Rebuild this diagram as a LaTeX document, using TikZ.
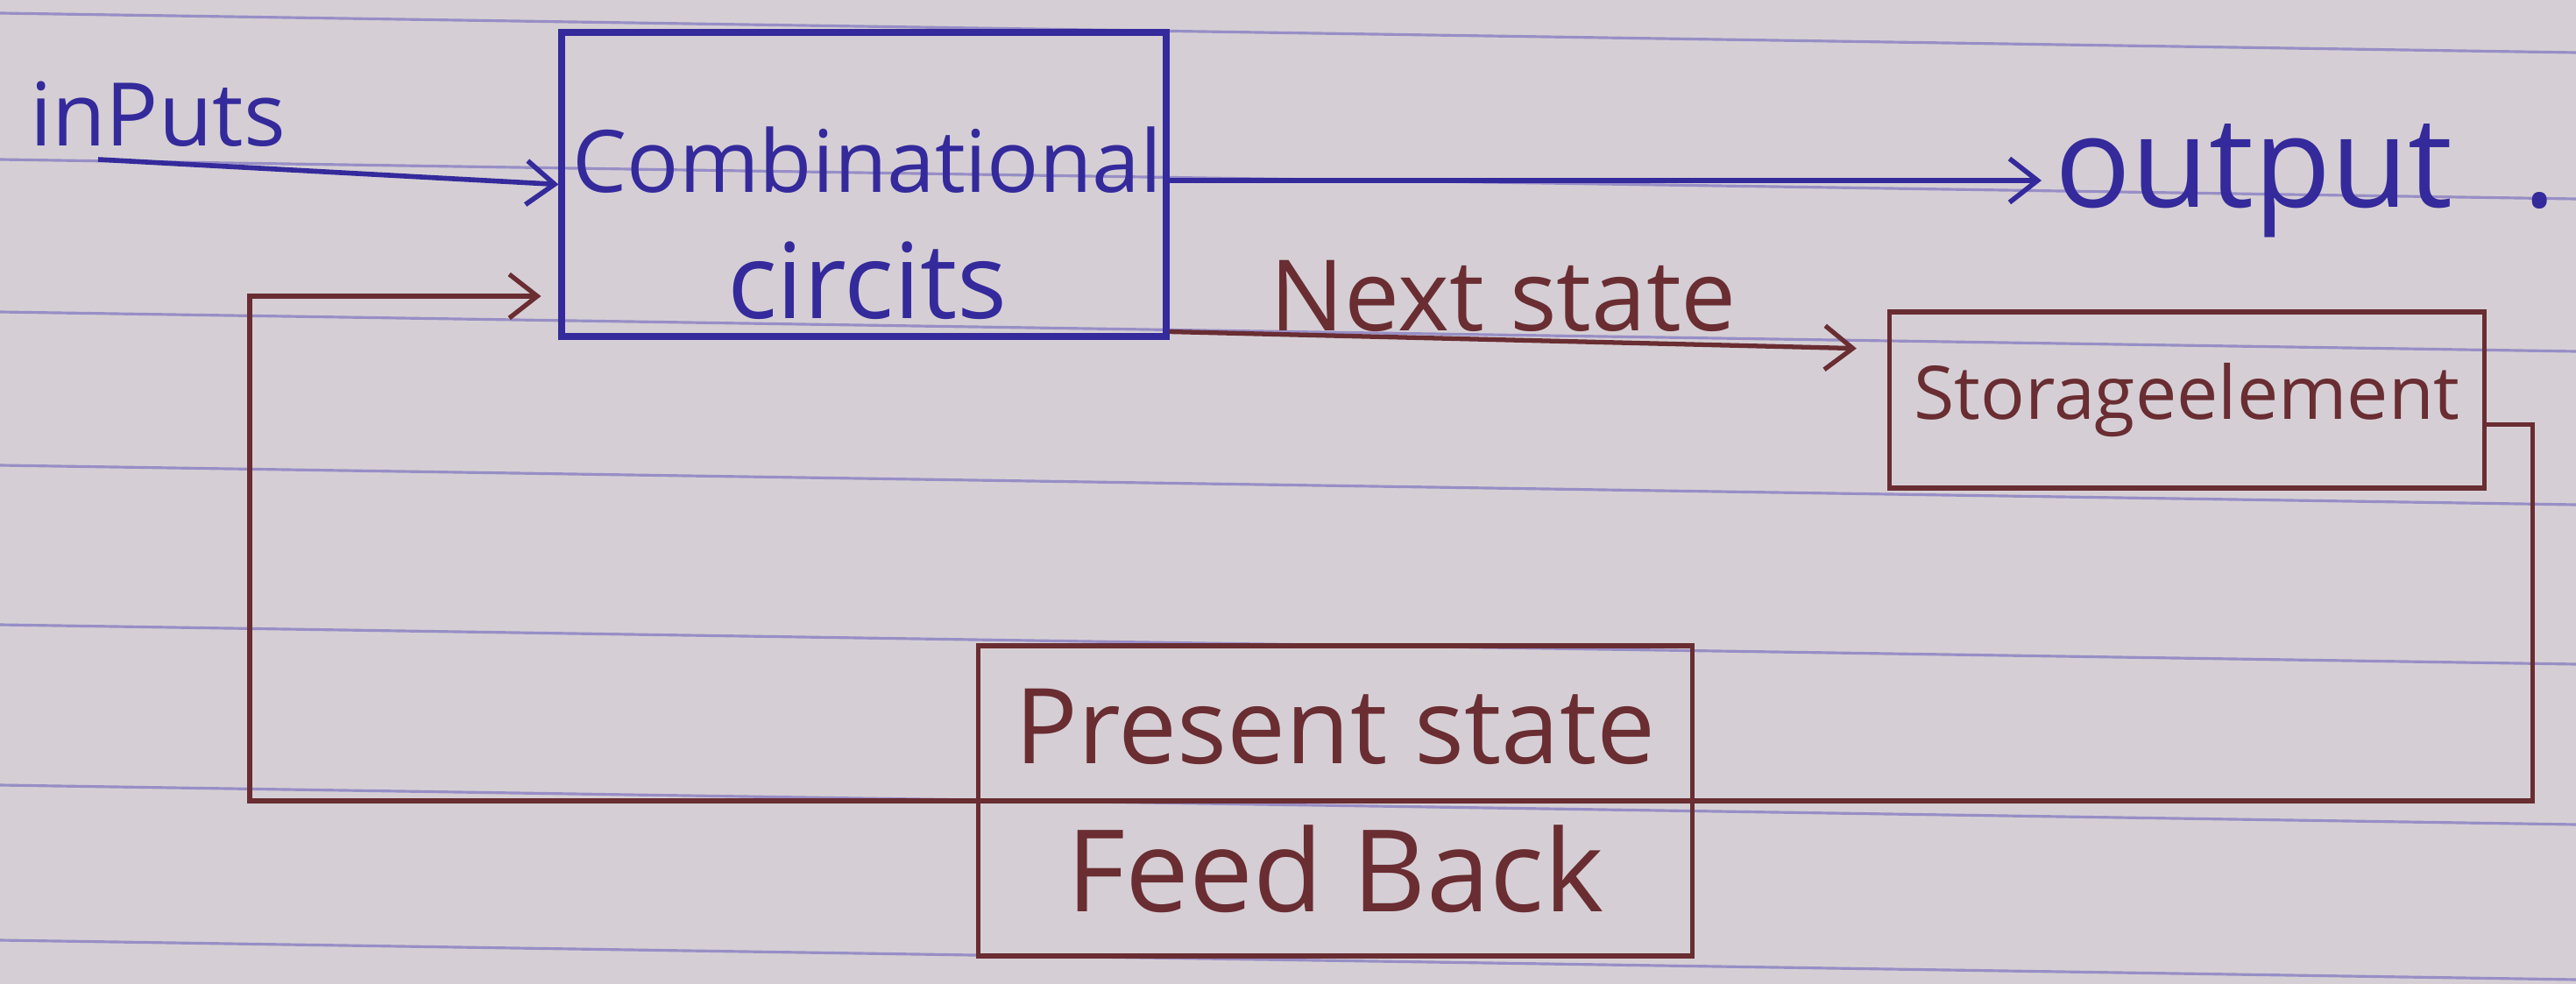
\documentclass[tikz,border=0pt]{standalone}
\usepackage{fontspec}
\setmainfont{Open Sans}
\usetikzlibrary{arrows.meta}
\definecolor{paper}{RGB}{213,207,213}
\definecolor{ruling}{RGB}{152,142,198}
\definecolor{inkblue}{RGB}{52,42,155}
\definecolor{inkbrown}{RGB}{105,45,50}

\begin{document}
\begin{tikzpicture}[>={Straight Barb[length=3.2mm,width=5mm]},
    blueink/.style={draw=inkblue,line width=2pt},
    brownink/.style={draw=inkbrown,line width=1.5pt},
    handtext/.style={inner sep=0pt}]
    \useasboundingbox (0,0) rectangle (29.4,-11.23);
    \fill[paper] (0,0) rectangle (29.4,-11.23);
    % ruled paper
    \foreach \y in {0.15,1.82,3.56,5.31,7.13,8.96,10.73}
      \draw[ruling,line width=0.9pt] (0,-\y) -- (29.4,{-\y-0.45});
    % blocks
    \node[handtext,text=inkblue,font=\fontsize{28.5}{34}\selectfont] (inlbl) at (1.8,-1.3) {inPuts};
    \node[blueink,minimum width=6.9cm,minimum height=3.47cm] (comb) at (9.86,-2.105) {};
    \node[handtext,text=inkblue,align=center,font=\fontsize{28}{41}\selectfont] (combtxt) at (9.9,-2.55) {Combinational\\{\fontsize{34}{41}\selectfont circits}};
    \node[handtext,text=inkblue,font=\fontsize{41}{48}\selectfont,anchor=west] (outlbl) at (23.45,-2.06) {output\hspace{0.8cm}.};
    \node[handtext,text=inkbrown,font=\fontsize{32}{38}\selectfont] (nslbl) at (17.16,-3.38) {Next state};
    \node[brownink,minimum width=6.79cm,minimum height=2.01cm,text=inkbrown,font=\fontsize{24}{30}\selectfont] (store) at (24.96,-4.565) {Storageelement};
    \node[brownink,minimum width=8.15cm,minimum height=3.54cm,text=inkbrown,align=center,font=\fontsize{34}{48}\selectfont] (fb) at (15.24,-9.14) {Present state\\{\fontsize{37}{48}\selectfont Feed Back}};
    \coordinate (instart) at (1.12,-1.82);
    \coordinate (fbcorner) at (2.85,-3.38);
    % connections
    \draw[blueink,->,line width=1.6pt] (instart) -- (comb.west);
    \draw[blueink,->,line width=1.6pt,shorten >=1.5mm] (comb.east |- outlbl.west) -- (outlbl.west);
    \draw[brownink,->,shorten >=3.5mm] ([yshift=0.9mm]comb.south east) -- ([yshift=5.8mm]store.west);
    \draw[brownink,->,shorten >=2mm] ([yshift=-2.8mm]store.east) -- ++(0.52,0) |- (fb.east) -- (fb.west) -| (fbcorner) -- (comb.west |- fbcorner);
\end{tikzpicture}
\end{document}
